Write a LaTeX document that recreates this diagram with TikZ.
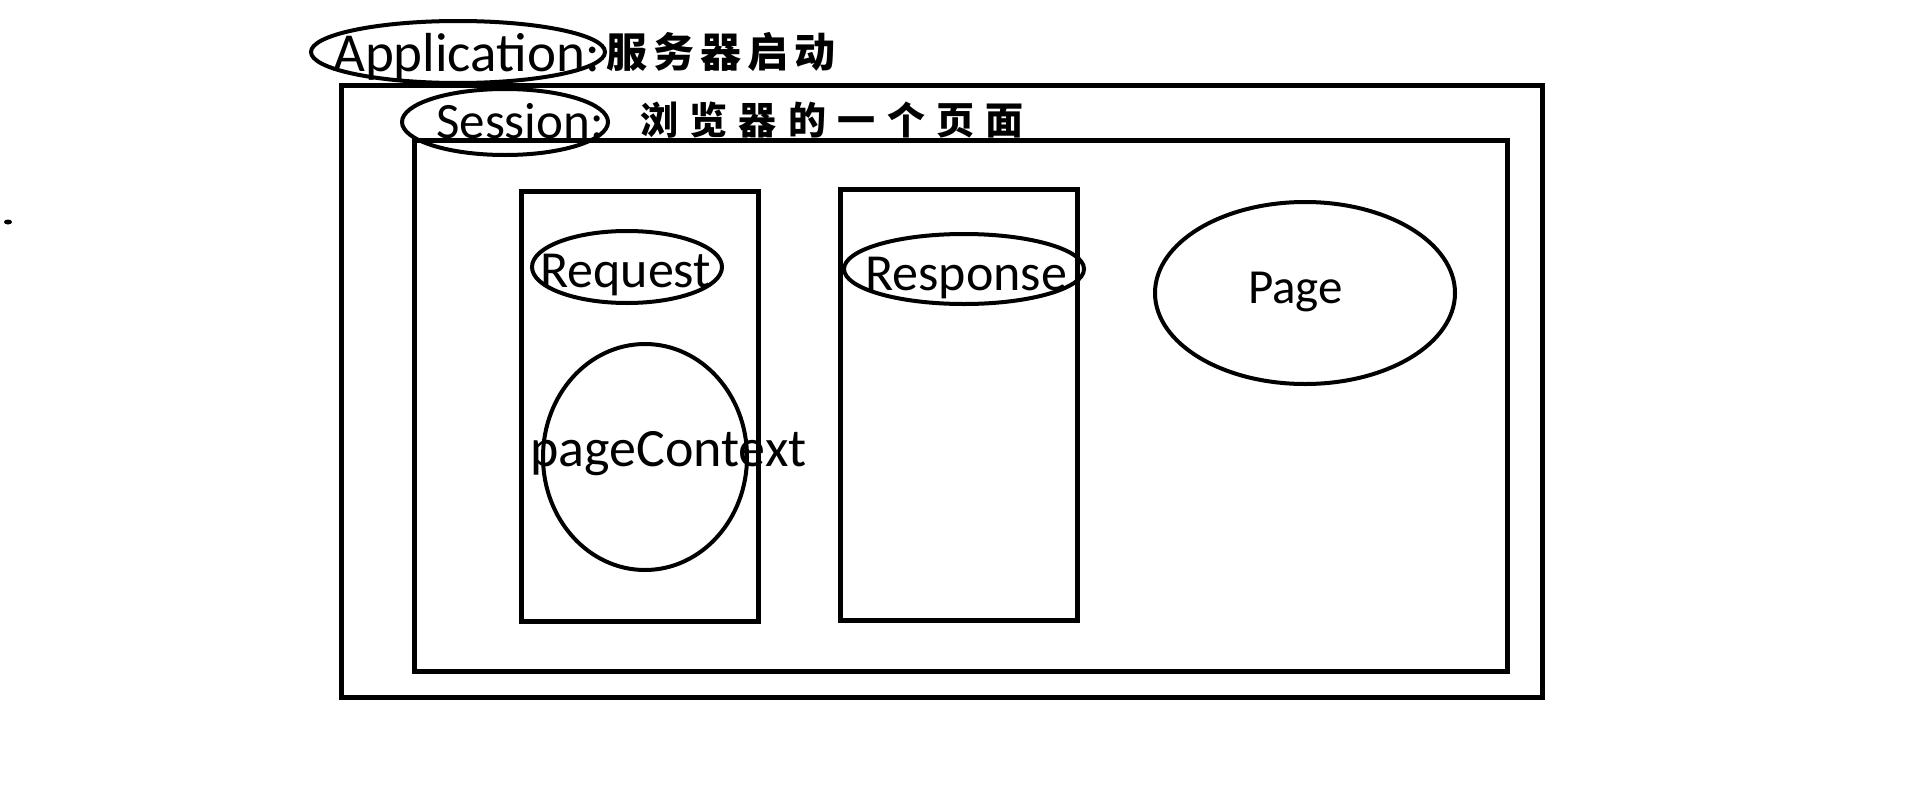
\documentclass[tikz,border=0pt]{standalone}
\usepackage{fontspec}
\setmainfont{Carlito}
\newfontfamily\cjka{Noto Sans CJK SC}[LetterSpace=15]
\newfontfamily\cjkb{Noto Sans CJK SC}[LetterSpace=30]
\usetikzlibrary{shapes.geometric}
\newcommand{\txtsize}[1]{\fontsize{#1}{#1}\selectfont}

\begin{document}
\begin{tikzpicture}[x=1pt,y=-1pt,
  box/.style={line width=5pt},
  oval/.style={draw,ellipse,line width=4pt,inner sep=0pt},
  lbl/.style={anchor=base west,inner sep=0pt}]
  \useasboundingbox (0,0) rectangle (1910,811);

  % Coordinates
  \coordinate (appbox) at (341,85);
  \coordinate (sessbox) at (414,140);
  \coordinate (reqbox) at (521,191);
  \coordinate (respbox) at (840,189);
  \coordinate (dot) at (8,222);

  % Application
  \draw[box] (appbox) rectangle ++(1201,612);
  \node[oval,minimum width=294pt,minimum height=62pt] (appoval) at (458,52) {};
  \node[lbl,font=\txtsize{55}] (apptext) at (333,71) {Application:};
  \node[lbl,font=\cjka\bfseries\txtsize{41}] (appnote) at (606,67) {服务器启动};

  % Session
  \draw[box] (sessbox) rectangle ++(1093,531);
  \node[oval,minimum width=206pt,minimum height=66pt] (sessoval) at (505,122) {};
  \node[lbl,font=\txtsize{51}] (sesstext) at (436,138) {Session:};
  \node[lbl,font=\cjkb\bfseries\txtsize{38}] (sessnote) at (640,134) {浏览器的一个页面};

  % Request
  \draw[box] (reqbox) rectangle ++(237,430);
  \node[oval,minimum width=190pt,minimum height=72pt] (reqoval) at (627,267) {};
  \node[lbl,font=\txtsize{52}] (reqtext) at (540,287) {Request};
  \node[oval,minimum width=204pt,minimum height=226pt] (pcoval) at (645,457) {};
  \node[lbl,font=\txtsize{54}] (pctext) at (530,466) {pageContext};

  % Response
  \draw[box] (respbox) rectangle ++(237,431);
  \node[oval,minimum width=240pt,minimum height=70pt] (respoval) at (964,269) {};
  \node[lbl,font=\txtsize{52}] (resptext) at (865,290) {Response};

  % Page
  \node[oval,minimum width=300pt,minimum height=182pt] (pageoval) at (1305,293) {};
  \node[lbl,font=\txtsize{49}] (pagetext) at (1248,303) {Page};

  \fill (dot) ellipse (4 and 2.5);
\end{tikzpicture}
\end{document}
